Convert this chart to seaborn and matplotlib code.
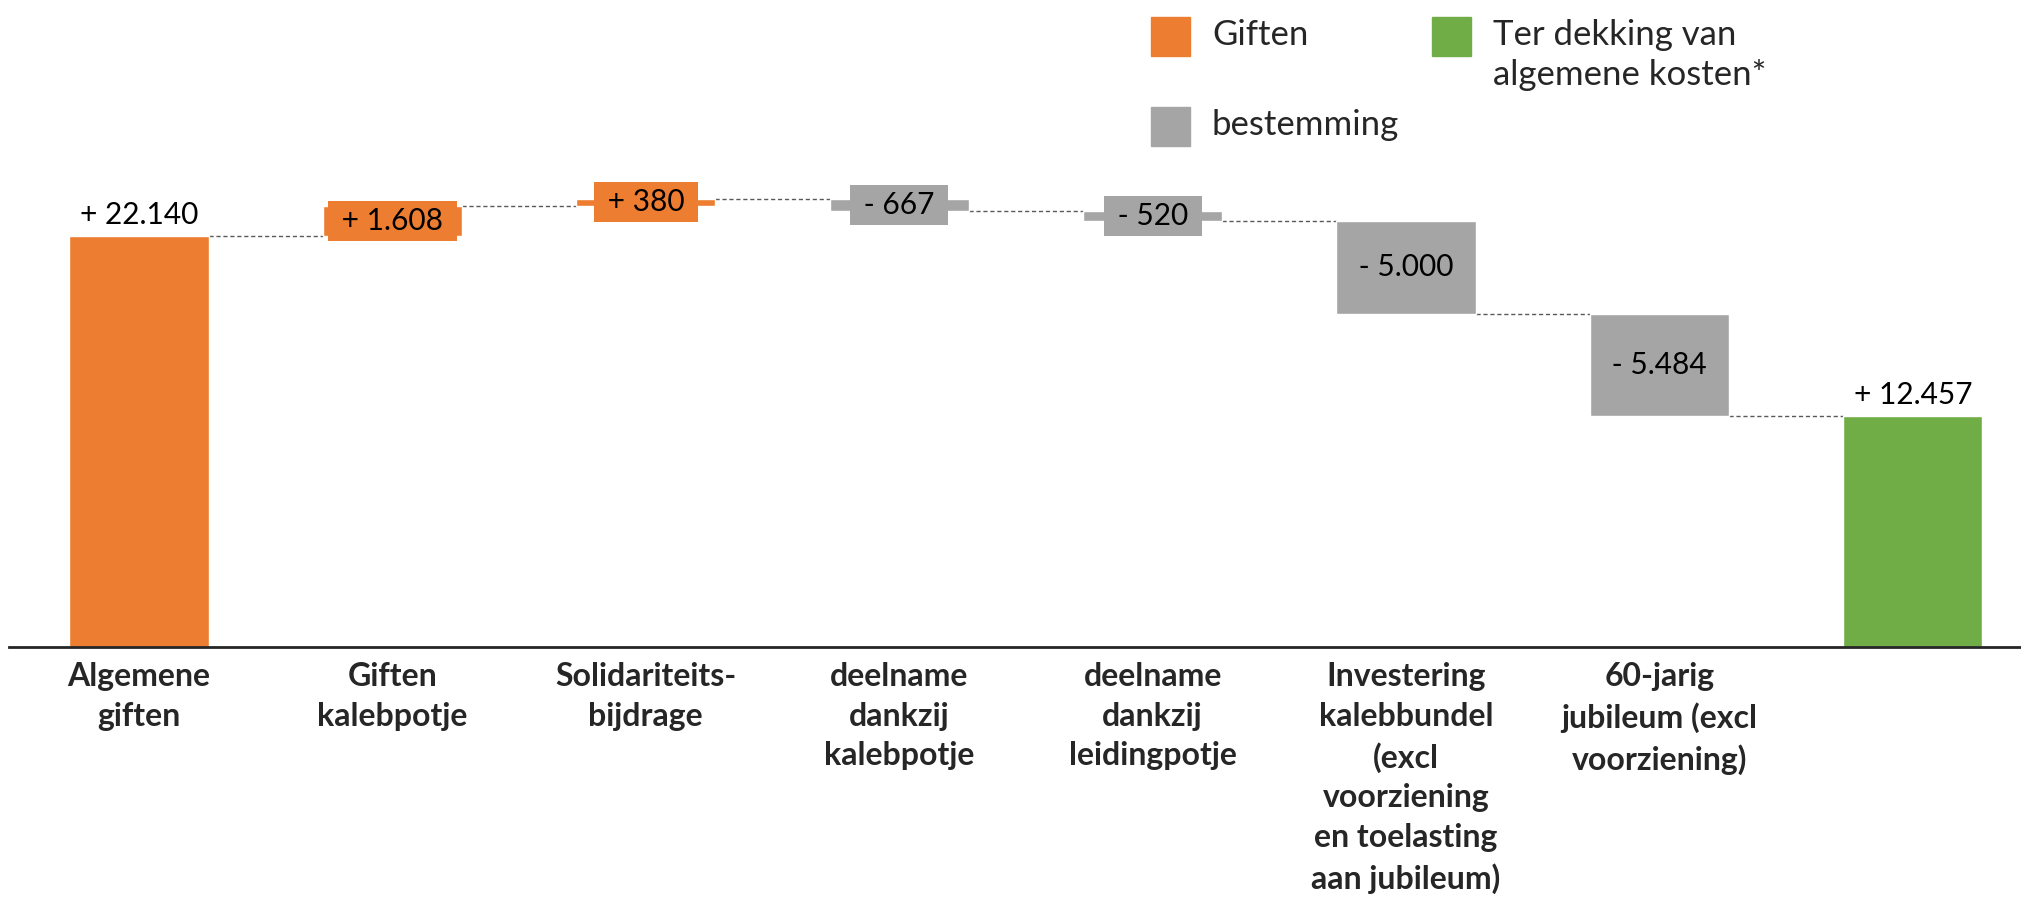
import numpy as np
import pandas as pd
import matplotlib
matplotlib.use("Agg")
import matplotlib.pyplot as plt
from matplotlib.patches import Rectangle
import seaborn as sns

# Waterfall data
categories = ["Algemene\ngiften", "Giften\nkalebpotje", "Solidariteits-\nbijdrage",
              "deelname\ndankzij\nkalebpotje", "deelname\ndankzij\nleidingpotje",
              "Investering\nkalebbundel\n(excl\nvoorziening\nen toelasting\naan jubileum)",
              "60-jarig\njubileum (excl\nvoorziening)", ""]
changes = [22140, 1608, 380, -667, -520, -5000, -5484]
end_total = 12457
kinds = ["Giften", "Giften", "Giften", "bestemming", "bestemming", "bestemming", "bestemming",
         "Ter dekking van\nalgemene kosten*"]
value_labels = ["+ 22.140", "+ 1.608", "+ 380", "- 667", "- 520", "- 5.000", "- 5.484", "+ 12.457"]

colors = {"Giften": "#ED7D31",
          "Ter dekking van\nalgemene kosten*": "#70AD47",
          "bestemming": "#A5A5A5"}

# running totals -> bar bottoms/heights
running = np.concatenate([[0], np.cumsum(changes)])
bottoms = list(np.minimum(running[:-1], running[1:])) + [0]
heights = list(np.abs(changes)) + [end_total]

df = pd.DataFrame({"categorie": categories, "hoogte": heights, "bodem": bottoms, "soort": kinds})

sns.set_theme(style="white")
plt.rcParams["font.family"] = ["Lato", "DejaVu Sans"]

W, H = 2021, 900
fig = plt.figure(figsize=(W / 100, H / 100), dpi=100)
ax = fig.add_axes([9 / W, 1 - 647 / H, 1 - 9 / W, 647 / H])

bar_w = 0.55
for kind, color in colors.items():
    sub = df[df["soort"] == kind]
    sns.barplot(data=sub, x="categorie", y="hoogte", order=categories,
                bottom=sub["bodem"].values, color=color, saturation=1,
                width=bar_w, errorbar=None, ax=ax, zorder=2)

ax.set_xlim(-0.513, 7.427)
ax.set_ylim(0, 34840)

# dashed connectors between bars
for i in range(len(changes)):
    level = running[i + 1]
    ax.plot([i + bar_w / 2, i + 1 - bar_w / 2], [level, level], ls=(0, (3, 2)),
            color="#595959", lw=1, zorder=1)

# value labels
for i, lab in enumerate(value_labels):
    col = colors[kinds[i]]
    if i == 0 or i == len(value_labels) - 1:
        ax.annotate(lab, (i, bottoms[i] + heights[i]), xytext=(0, 5), textcoords="offset points",
                    ha="center", va="bottom", fontsize=21.5, color="black")
    else:
        ax.text(i, bottoms[i] + heights[i] / 2, f" {lab} ", ha="center", va="center",
                fontsize=21.5, color="black", zorder=4,
                bbox=dict(boxstyle="square,pad=0.2", fc=col, ec="none"))

sns.despine(ax=ax, left=True)
ax.spines["bottom"].set_color("#262626")
ax.spines["bottom"].set_linewidth(2)
ax.set_yticks([])
ax.set_xlabel("")
ax.set_ylabel("")
ax.tick_params(axis="x", length=0, pad=11, labelsize=23)
for lbl in ax.get_xticklabels():
    lbl.set_fontweight("bold")
    lbl.set_linespacing(1.44)

# legend
sq = 39
legend_pos = {"Giften": (1151, 17), "Ter dekking van\nalgemene kosten*": (1432, 17),
              "bestemming": (1151, 107)}
for name, (px, py) in legend_pos.items():
    fig.add_artist(Rectangle((px / W, 1 - (py + sq) / H), sq / W, sq / H,
                             transform=fig.transFigure, color=colors[name]))
    fig.text((px + sq + 22) / W, 1 - (py + 2) / H, name, ha="left", va="top",
             fontsize=25, linespacing=1.3)

fig.savefig("out.png", dpi=100)
